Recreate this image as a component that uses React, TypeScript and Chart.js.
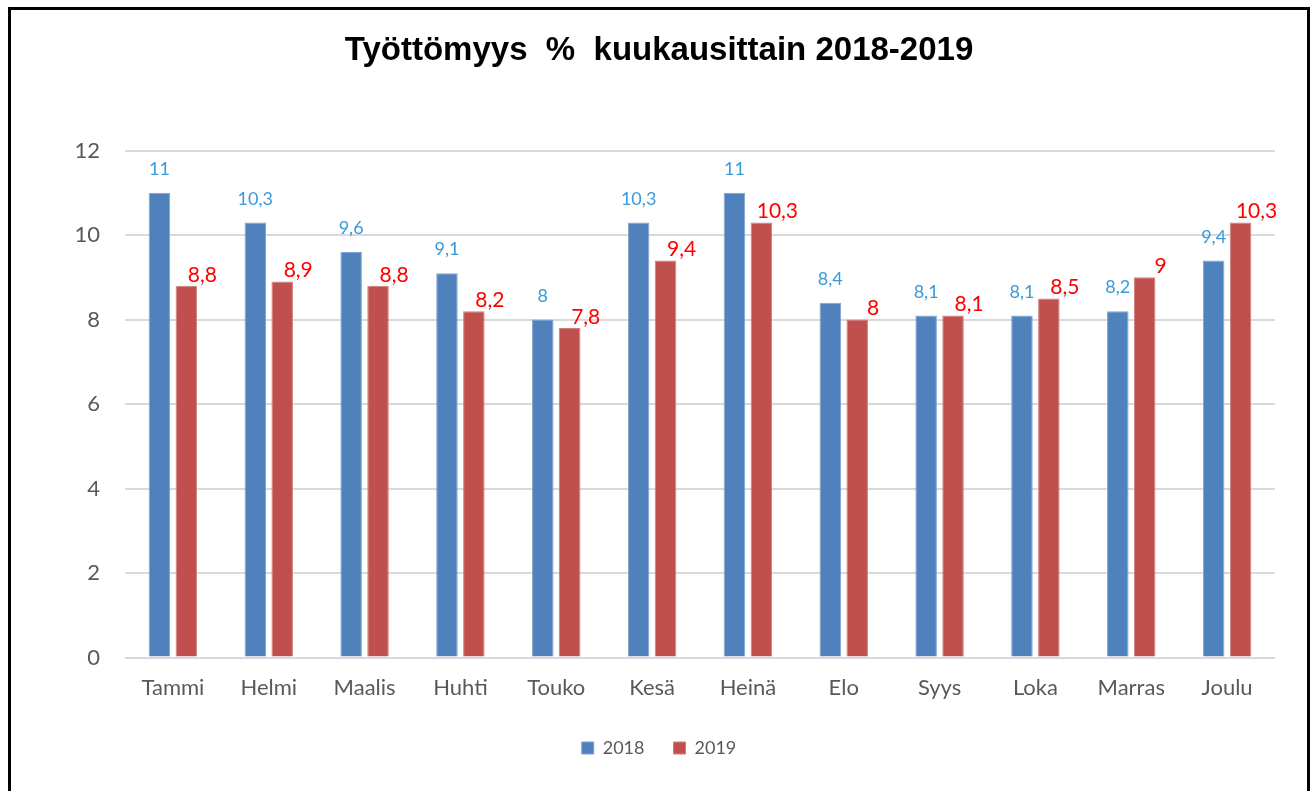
import React, { useEffect, useRef } from "react";
import { Chart, registerables } from "chart.js";

Chart.register(...registerables);

const months = ["Tammi", "Helmi", "Maalis", "Huhti", "Touko", "Kesä", "Heinä", "Elo", "Syys", "Loka", "Marras", "Joulu"];
const values2018 = [11, 10.3, 9.6, 9.1, 8, 10.3, 11, 8.4, 8.1, 8.1, 8.2, 9.4];
const values2019 = [8.8, 8.9, 8.8, 8.2, 7.8, 9.4, 10.3, 8, 8.1, 8.5, 9, 10.3];
const seriesNames = ["2018", "2019"];
const yTickValues = [0, 2, 4, 6, 8, 10, 12];
const chartTitle = "Työttömyys  %  kuukausittain 2018-2019";

const barColors = ["#4F81BD", "#C0504D"];
const barEdges = ["#7FA3D1", "#D27E7B"];
const labelStyles = [
  { size: 18, color: "#3A9AD9", dx: 0, dy: 23.5 },
  { size: 21, color: "#FF0000", dx: 16, dy: 11 },
];

const fmt = (v: number) => String(v).replace(".", ",");

const valueLabels = {
  id: "valueLabels",
  afterDatasetsDraw(chart: any) {
    const ctx = chart.ctx;
    chart.data.datasets.forEach((ds: any, di: number) => {
      const meta = chart.getDatasetMeta(di);
      const st = labelStyles[di];
      ctx.save();
      ctx.font = `${st.size}px Lato`;
      ctx.fillStyle = st.color;
      ctx.textAlign = "center";
      ctx.textBaseline = "middle";
      meta.data.forEach((el: any, i: number) => {
        ctx.fillText(fmt(ds.data[i]), el.x + st.dx, el.y - st.dy);
      });
      ctx.restore();
    });
  },
};

export default function App() {
  const ref = useRef<HTMLCanvasElement | null>(null);

  useEffect(() => {
    if (!ref.current) return;
    Chart.defaults.font.family = "Lato";
    const chart = new Chart(ref.current, {
      type: "bar",
      data: {
        labels: months,
        datasets: [values2018, values2019].map((vals, i) => ({
          label: seriesNames[i],
          data: vals,
          backgroundColor: barColors[i],
          borderColor: barEdges[i],
          borderWidth: 1,
          categoryPercentage: 0.5615,
          barPercentage: 0.8,
          yAxisID: "y",
        })),
      },
      options: {
        responsive: false,
        animation: false,
        layout: { padding: { left: 16, right: 16, top: 0, bottom: 24 } },
        plugins: {
          title: {
            display: true,
            text: chartTitle,
            color: "#000000",
            font: { family: "Liberation Sans", size: 33, weight: "bold" },
            padding: { top: 21, bottom: 80 },
          },
          legend: {
            position: "bottom",
            labels: {
              boxWidth: 12,
              boxHeight: 12,
              padding: 29,
              color: "#595959",
              font: { family: "Lato", size: 18 },
            },
          },
          tooltip: { enabled: false },
        },
        scales: {
          x: {
            grid: { display: false },
            border: { display: false },
            ticks: { color: "#595959", font: { family: "Lato", size: 22 }, padding: 9 },
          },
          y: {
            min: 0,
            max: 12,
            grid: { color: "#D9D9D9", lineWidth: 2, drawTicks: false },
            border: { display: false },
            ticks: { color: "#595959", font: { family: "Lato", size: 22 }, padding: 25, stepSize: 2 },
            afterBuildTicks: (s: any) => {
              s.ticks = yTickValues.map((v) => ({ value: v }));
            },
            afterFit: (s: any) => {
              s.width = 98;
            },
          },
          yRight: {
            position: "right",
            display: true,
            grid: { display: false },
            border: { display: false },
            ticks: { display: false },
            afterFit: (s: any) => {
              s.width = 16;
            },
          },
        },
      },
      plugins: [valueLabels],
    });
    return () => chart.destroy();
  }, []);

  return (
    <div style={{ position: "fixed", left: 0, top: 0, width: 1314, height: 791, overflow: "hidden", background: "#ffffff" }}>
      <div
        style={{
          position: "absolute",
          left: 8,
          top: 7,
          width: 1302,
          height: 830,
          border: "3px solid #000000",
          boxSizing: "border-box",
          background: "#ffffff",
        }}
      >
        <canvas ref={ref} width={1296} height={781} style={{ position: "absolute", left: 0, top: 0 }} />
      </div>
    </div>
  );
}
